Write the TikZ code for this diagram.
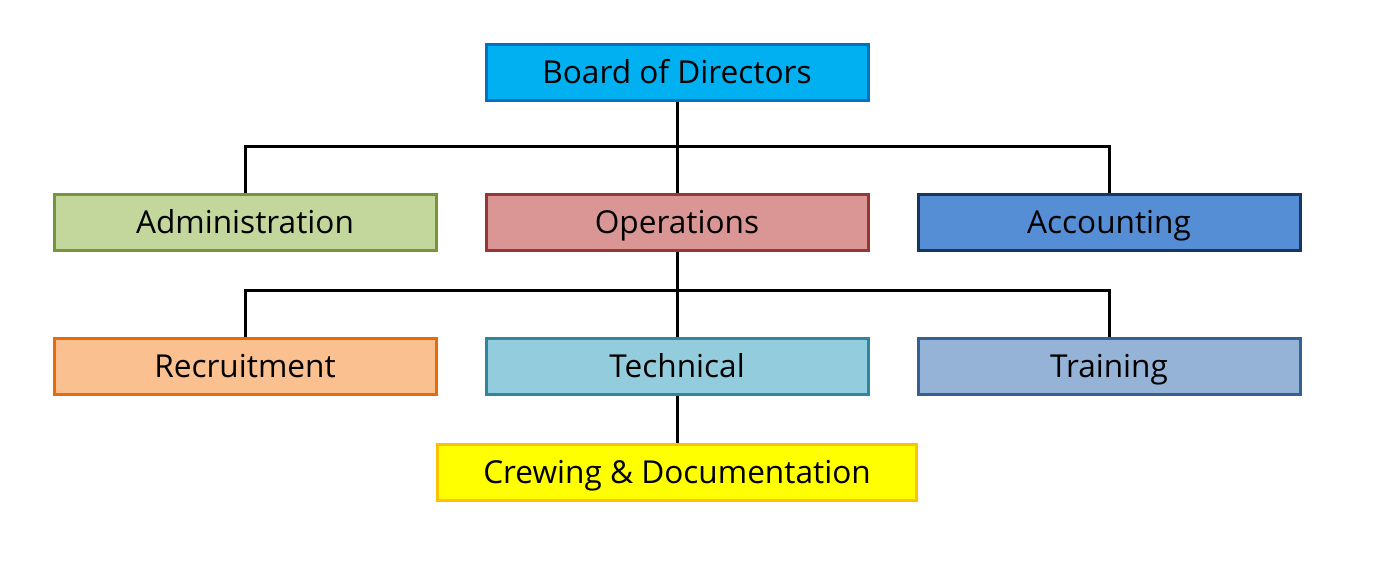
\documentclass[tikz,border=0pt]{standalone}
\usepackage{fontspec}
\setmainfont{Open Sans}
\definecolor{boardF}{HTML}{00B0F0}\definecolor{boardD}{HTML}{0070C0}
\definecolor{admF}{HTML}{C3D69B}\definecolor{admD}{HTML}{77933C}
\definecolor{opsF}{HTML}{D99694}\definecolor{opsD}{HTML}{953735}
\definecolor{accF}{HTML}{558ED5}\definecolor{accD}{HTML}{17375E}
\definecolor{recF}{HTML}{FAC090}\definecolor{recD}{HTML}{E46C0A}
\definecolor{tecF}{HTML}{93CDDD}\definecolor{tecD}{HTML}{31859C}
\definecolor{trnF}{HTML}{95B3D7}\definecolor{trnD}{HTML}{376092}
\definecolor{crwF}{HTML}{FFFF00}\definecolor{crwD}{HTML}{FFC000}
\tikzset{
  orgbox/.style={draw=#1D, fill=#1F, line width=3pt, rectangle, minimum width=382pt, minimum height=56pt, inner sep=0pt, text height=22.5pt, text depth=0pt, font=\fontsize{31.6}{36}\selectfont, text=black},
  link/.style={line width=3pt, black}
}
\begin{document}
\begin{tikzpicture}[x=1pt,y=-1pt]
\useasboundingbox (0,0) rectangle (1379,560);
\node[orgbox=board] (board) at (677,72) {Board of Directors};
\node[orgbox=adm] (adm) at (245,222) {Administration};
\node[orgbox=ops] (ops) at (677,222) {Operations};
\node[orgbox=acc] (acc) at (1109,222) {Accounting};
\node[orgbox=rec] (rec) at (245,366) {Recruitment};
\node[orgbox=tec] (tec) at (677,366) {Technical};
\node[orgbox=trn] (trn) at (1109,366) {Training};
\node[orgbox=crw, minimum width=479pt] (crw) at (677,472) {Crewing \& Documentation};
\coordinate (b1) at (677,146);
\coordinate (b2) at (677,290);
\draw[link] (board.south) -- (ops.north);
\draw[link] (adm.north) |- (b1) -| (acc.north);
\draw[link] (ops.south) -- (tec.north);
\draw[link] (rec.north) |- (b2) -| (trn.north);
\draw[link] (tec.south) -- (crw.north);
\end{tikzpicture}
\end{document}
